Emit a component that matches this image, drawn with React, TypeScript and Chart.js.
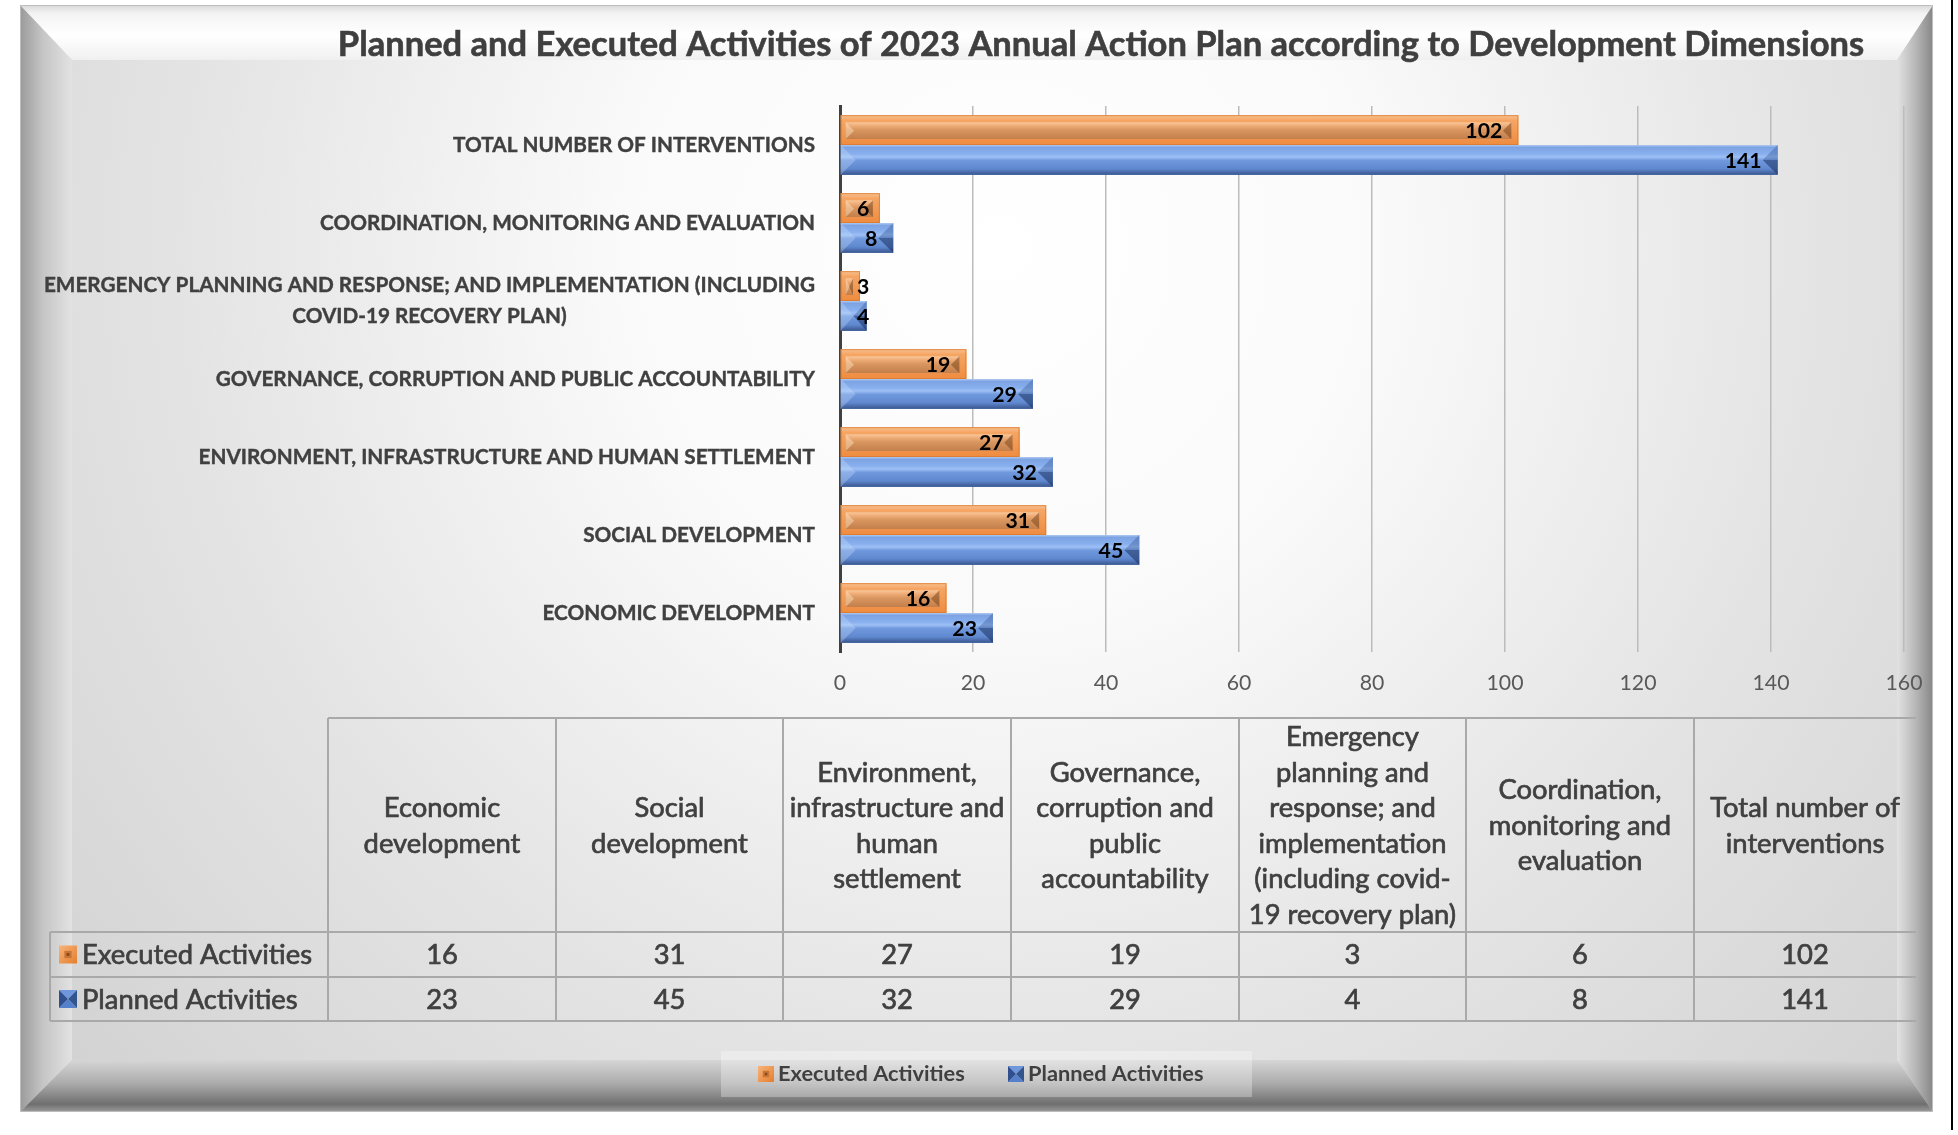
import React, { useEffect, useRef } from "react";
import { Chart, registerables } from "chart.js";

Chart.register(...registerables);

// ---------------- data ----------------
const TITLE =
  "Planned and Executed Activities of 2023 Annual Action Plan according to Development Dimensions";
const SERIES = ["Executed Activities", "Planned Activities"];
// categories in table order (they appear bottom-to-top in the chart)
const AXIS_LABELS: string[][] = [
  ["ECONOMIC DEVELOPMENT"],
  ["SOCIAL DEVELOPMENT"],
  ["ENVIRONMENT, INFRASTRUCTURE AND HUMAN SETTLEMENT"],
  ["GOVERNANCE, CORRUPTION AND PUBLIC ACCOUNTABILITY"],
  ["EMERGENCY PLANNING AND RESPONSE; AND IMPLEMENTATION (INCLUDING", "COVID-19 RECOVERY PLAN)"],
  ["COORDINATION, MONITORING AND EVALUATION"],
  ["TOTAL NUMBER OF INTERVENTIONS"],
];
const TABLE_HEADERS: string[][] = [
  ["Economic", "development"],
  ["Social", "development"],
  ["Environment,", "infrastructure and", "human", "settlement"],
  ["Governance,", "corruption and", "public", "accountability"],
  ["Emergency", "planning and", "response; and", "implementation", "(including covid-", "19 recovery plan)"],
  ["Coordination,", "monitoring and", "evaluation"],
  ["Total number of", "interventions"],
];
const EXECUTED = [16, 31, 27, 19, 3, 6, 102];
const PLANNED = [23, 45, 32, 29, 4, 8, 141];
const X_MIN = 0;
const X_MAX = 160;
const X_STEP = 20;

// ---------------- layout / style ----------------
const W = 1958;
const H = 1135;
const FONT = "Lato, 'Open Sans', sans-serif";
const TEXT = "#404040";
const PLOT = { left: 840, right: 1904, top: 106, bottom: 652 };
const TABLE_COLS = [328, 556, 783, 1011, 1239, 1466, 1694, 1916];
const TABLE_LEFT = 50;
const TABLE_ROWS = [718, 932, 977, 1021];

function fitSize(text: string, target: number, weight: string) {
  const c = document.createElement("canvas").getContext("2d")!;
  c.font = `${weight} 100px ${FONT}`;
  const w = c.measureText(text).width || 1;
  return (100 * target) / w;
}

function poly(ctx: CanvasRenderingContext2D, pts: number[][], fill: any) {
  ctx.beginPath();
  ctx.moveTo(pts[0][0], pts[0][1]);
  for (let i = 1; i < pts.length; i++) ctx.lineTo(pts[i][0], pts[i][1]);
  ctx.closePath();
  ctx.fillStyle = fill;
  ctx.fill();
}

function heavyText(ctx: CanvasRenderingContext2D, t: string, x: number, y: number, w: number) {
  ctx.fillText(t, x, y);
  ctx.lineWidth = w;
  ctx.strokeStyle = ctx.fillStyle as string;
  ctx.strokeText(t, x, y);
}

function drawFrame(ctx: CanvasRenderingContext2D) {
  const O = { l: 20, t: 5, r: 1933, b: 1112 };
  const I = { l: 72, t: 60, r: 1897, b: 1060 };
  ctx.save();
  ctx.fillStyle = "#ffffff";
  ctx.fillRect(0, 0, W, H);
  const face = ctx.createRadialGradient(1000, 250, 0, 1000, 250, 1250);
  face.addColorStop(0, "#ffffff");
  face.addColorStop(0.3, "#fafafa");
  face.addColorStop(0.65, "#e4e4e4");
  face.addColorStop(1, "#d2d2d2");
  ctx.fillStyle = face;
  ctx.fillRect(O.l, O.t, O.r - O.l, O.b - O.t);

  let g = ctx.createLinearGradient(0, O.t, 0, I.t);
  g.addColorStop(0, "#d8d8d8");
  g.addColorStop(0.15, "#f3f3f3");
  g.addColorStop(0.55, "#ffffff");
  g.addColorStop(1, "#f0f0f0");
  poly(ctx, [[O.l, O.t], [O.r, O.t], [I.r, I.t], [I.l, I.t]], g);

  g = ctx.createLinearGradient(O.l, 0, I.l, 0);
  g.addColorStop(0, "#9a9a9a");
  g.addColorStop(0.45, "#c6c6c6");
  g.addColorStop(1, "#e2e2e2");
  poly(ctx, [[O.l, O.t], [I.l, I.t], [I.l, I.b], [O.l, O.b]], g);

  g = ctx.createLinearGradient(I.r, 0, O.r, 0);
  g.addColorStop(0, "#e2e2e2");
  g.addColorStop(0.55, "#b4b4b4");
  g.addColorStop(1, "#868686");
  poly(ctx, [[O.r, O.t], [O.r, O.b], [I.r, I.b], [I.r, I.t]], g);

  g = ctx.createLinearGradient(0, I.b, 0, O.b);
  g.addColorStop(0, "#d6d6d6");
  g.addColorStop(0.45, "#ababab");
  g.addColorStop(0.85, "#6f6f6f");
  g.addColorStop(1, "#9c9c9c");
  poly(ctx, [[O.l, O.b], [I.l, I.b], [I.r, I.b], [O.r, O.b]], g);

  ctx.strokeStyle = "#bdbdbd";
  ctx.lineWidth = 1;
  ctx.strokeRect(O.l + 0.5, O.t + 0.5, O.r - O.l - 1, O.b - O.t - 1);

  ctx.fillStyle = "#000000";
  ctx.fillRect(1951, 0, 2, 1130);
  ctx.restore();
}

function drawKey(ctx: CanvasRenderingContext2D, x: number, y: number, s: number, which: number) {
  ctx.save();
  if (which === 0) {
    const g = ctx.createLinearGradient(x, y, x + s, y + s);
    g.addColorStop(0, "#F8B47A");
    g.addColorStop(1, "#E47E2E");
    ctx.fillStyle = g;
    ctx.fillRect(x, y, s, s);
    ctx.fillStyle = "#C97538";
    ctx.fillRect(x + s * 0.3, y + s * 0.3, s * 0.4, s * 0.4);
    ctx.fillStyle = "#8a4a1c";
    ctx.fillRect(x + s * 0.42, y + s * 0.42, s * 0.16, s * 0.16);
  } else {
    const cx = x + s / 2;
    const cy = y + s / 2;
    poly(ctx, [[x, y], [x + s, y], [cx, cy]], "#6E97DD");
    poly(ctx, [[x, y + s], [x + s, y + s], [cx, cy]], "#5581CC");
    poly(ctx, [[x, y], [x, y + s], [cx, cy]], "#2F4F8E");
    poly(ctx, [[x + s, y], [x + s, y + s], [cx, cy]], "#33558F");
  }
  ctx.restore();
}

function drawOrangeBar(ctx: CanvasRenderingContext2D, L: number, R: number, T: number, B: number) {
  const h = B - T;
  if (R - L < 1) return;
  ctx.save();
  let g = ctx.createLinearGradient(0, T, 0, B);
  g.addColorStop(0, "#F9C190");
  g.addColorStop(0.18, "#F5A563");
  g.addColorStop(1, "#EE8C40");
  ctx.fillStyle = g;
  ctx.fillRect(L, T, R - L, h);
  const il = L + 5;
  const ir = R - 7;
  const it = T + h * 0.24;
  const ib = B - h * 0.2;
  if (ir - il > 1) {
    g = ctx.createLinearGradient(0, it, 0, ib);
    g.addColorStop(0, "#FAC89C");
    g.addColorStop(0.2, "#EFAD78");
    g.addColorStop(0.45, "#D9965F");
    g.addColorStop(1, "#C27F4C");
    ctx.fillStyle = g;
    ctx.fillRect(il, it, ir - il, ib - it);
    const ih = ib - it;
    const d = Math.min(ih / 2, (ir - il) / 2);
    poly(ctx, [[ir, it], [ir - d, (it + ib) / 2], [ir, ib]], "rgba(130,72,30,0.55)");
    poly(ctx, [[il, it], [il + d, (it + ib) / 2], [il, ib]], "rgba(255,228,195,0.45)");
  }
  ctx.strokeStyle = "rgba(215,120,45,0.7)";
  ctx.lineWidth = 1;
  ctx.strokeRect(L + 0.5, T + 0.5, R - L - 1, h - 1);
  ctx.restore();
}

function drawBlueBar(ctx: CanvasRenderingContext2D, L: number, R: number, T: number, B: number) {
  const h = B - T;
  if (R - L < 1) return;
  ctx.save();
  const g = ctx.createLinearGradient(0, T, 0, B);
  g.addColorStop(0, "#AFCAF0");
  g.addColorStop(0.08, "#7DA3E4");
  g.addColorStop(0.3, "#88AFEE");
  g.addColorStop(0.4, "#9DC0F5");
  g.addColorStop(0.52, "#6F98DD");
  g.addColorStop(0.8, "#5F88CF");
  g.addColorStop(0.92, "#4868A6");
  g.addColorStop(1, "#3A5790");
  ctx.fillStyle = g;
  ctx.fillRect(L, T, R - L, h);
  const d = Math.min(h / 2, (R - L) / 2);
  const m = (T + B) / 2;
  poly(ctx, [[R, T], [R - d, m], [R, m]], "rgba(50,80,140,0.35)");
  poly(ctx, [[R, m], [R - d, m], [R, B]], "rgba(20,40,85,0.5)");
  poly(ctx, [[L, T], [L + d, m], [L, B]], "rgba(210,228,255,0.3)");
  ctx.restore();
}

export default function App() {
  const ref = useRef<HTMLCanvasElement | null>(null);

  useEffect(() => {
    const canvas = ref.current;
    if (!canvas) return;

    const titleSize = fitSize(TITLE, 1527, "bold");
    const yLabelSize = fitSize("TOTAL NUMBER OF INTERVENTIONS", 362, "bold");
    const tickSize = fitSize("120", 37, "normal");
    const valueSize = fitSize("102", 37, "bold");
    const tableSize = fitSize("Executed Activities", 230, "normal");
    const legendSize = fitSize("Executed Activities", 187, "bold");

    const order = EXECUTED.map((_, i) => EXECUTED.length - 1 - i);
    const labels = order.map((i) => AXIS_LABELS[i].join(" "));

    const xAxisHeight = 60;

    const decor = {
      id: "decor",
      beforeDraw(chart: any) {
        const ctx: CanvasRenderingContext2D = chart.ctx;
        drawFrame(ctx);
        ctx.save();
        // title
        ctx.fillStyle = "#3F3F3F";
        ctx.font = `bold ${titleSize}px ${FONT}`;
        ctx.textAlign = "center";
        ctx.textBaseline = "middle";
        heavyText(ctx, TITLE, 1101, 45, 0.6);

        // data table
        const [hTop, r1, r2, r3] = TABLE_ROWS;
        const C = TABLE_COLS;
        ctx.strokeStyle = "#a9a9a9";
        ctx.lineWidth = 2;
        ctx.beginPath();
        ctx.moveTo(C[0], hTop);
        ctx.lineTo(C[C.length - 1], hTop);
        [r1, r2, r3].forEach((y) => {
          ctx.moveTo(TABLE_LEFT, y);
          ctx.lineTo(C[C.length - 1], y);
        });
        for (let i = 0; i < C.length - 1; i++) {
          ctx.moveTo(C[i], hTop);
          ctx.lineTo(C[i], r3);
        }
        ctx.moveTo(TABLE_LEFT, r1);
        ctx.lineTo(TABLE_LEFT, r3);
        ctx.stroke();

        ctx.fillStyle = TEXT;
        ctx.font = `normal ${tableSize}px ${FONT}`;
        ctx.textAlign = "center";
        ctx.textBaseline = "middle";
        const lh = 35.5;
        const hc = (hTop + r1) / 2;
        TABLE_HEADERS.forEach((lines, i) => {
          const cx = (C[i] + C[i + 1]) / 2;
          lines.forEach((ln, k) => {
            heavyText(ctx, ln, cx, hc + (k - (lines.length - 1) / 2) * lh + 1, 0.7);
          });
        });
        const rows = [EXECUTED, PLANNED];
        const rowY = [(r1 + r2) / 2, (r2 + r3) / 2];
        rows.forEach((vals, ri) => {
          vals.forEach((v, i) => {
            heavyText(ctx, String(v), (C[i] + C[i + 1]) / 2, rowY[ri] + 1, 0.7);
          });
        });
        ctx.textAlign = "left";
        SERIES.forEach((s, ri) => {
          drawKey(ctx, 59, rowY[ri] - 9, 18, ri);
          ctx.fillStyle = TEXT;
          heavyText(ctx, s, 82, rowY[ri] + 1, 0.7);
        });

        // legend
        ctx.fillStyle = "rgba(255,255,255,0.3)";
        ctx.fillRect(721, 1051, 531, 46);
        ctx.font = `bold ${legendSize}px ${FONT}`;
        ctx.textAlign = "left";
        ctx.textBaseline = "middle";
        const lx = [758, 1008];
        SERIES.forEach((s, i) => {
          drawKey(ctx, lx[i], 1066, 16, i);
          ctx.fillStyle = TEXT;
          ctx.fillText(s, lx[i] + 20, 1074);
        });
        ctx.restore();
      },
      afterDatasetsDraw(chart: any) {
        const ctx: CanvasRenderingContext2D = chart.ctx;
        const xs = chart.scales.x;
        const zero = xs.getPixelForValue(0);
        chart.data.datasets.forEach((ds: any, di: number) => {
          const meta = chart.getDatasetMeta(di);
          meta.data.forEach((el: any, j: number) => {
            const p = el.getProps(["x", "y", "base", "height"], true);
            const L = Math.min(p.base, p.x);
            const R = Math.max(p.base, p.x);
            const T = p.y - p.height / 2;
            const B = p.y + p.height / 2;
            if (di === 0) drawOrangeBar(ctx, L, R, T, B);
            else drawBlueBar(ctx, L, R, T, B);
            // value label (inside end)
            ctx.save();
            ctx.font = `bold ${valueSize}px ${FONT}`;
            ctx.fillStyle = "#000000";
            ctx.textAlign = "right";
            ctx.textBaseline = "middle";
            const txt = String(ds.data[j]);
            const tw = ctx.measureText(txt).width;
            const right = Math.max(R - 16, zero + 17 + tw);
            ctx.fillText(txt, right, p.y + 1);
            ctx.restore();
          });
        });
      },
      afterDraw(chart: any) {
        const ctx: CanvasRenderingContext2D = chart.ctx;
        const ys = chart.scales.y;
        ctx.save();
        ctx.fillStyle = TEXT;
        ctx.font = `bold ${yLabelSize}px ${FONT}`;
        ctx.textBaseline = "middle";
        const rightEdge = 815;
        order.forEach((ci, j) => {
          const lines = AXIS_LABELS[ci];
          const y = ys.getPixelForValue(j);
          if (lines.length === 1) {
            ctx.textAlign = "right";
            heavyText(ctx, lines[0], rightEdge, y, 0.4);
          } else {
            const mw = Math.max(...lines.map((l) => ctx.measureText(l).width));
            const cx = rightEdge - mw / 2;
            ctx.textAlign = "center";
            const lh = 31;
            lines.forEach((l, k) => {
              heavyText(ctx, l, cx, y + (k - (lines.length - 1) / 2) * lh, 0.4);
            });
          }
        });
        ctx.restore();
      },
    };

    const chart = new Chart(canvas, {
      type: "bar",
      data: {
        labels,
        datasets: [
          {
            label: SERIES[0],
            data: order.map((i) => EXECUTED[i]),
            backgroundColor: "#F0913F",
            borderWidth: 0,
            categoryPercentage: 0.765,
            barPercentage: 1,
          },
          {
            label: SERIES[1],
            data: order.map((i) => PLANNED[i]),
            backgroundColor: "#5B87D3",
            borderWidth: 0,
            categoryPercentage: 0.765,
            barPercentage: 1,
          },
        ],
      },
      options: {
        indexAxis: "y",
        responsive: false,
        animation: false,
        devicePixelRatio: 1,
        layout: {
          padding: {
            left: 0,
            top: PLOT.top,
            right: W - PLOT.right,
            bottom: H - PLOT.bottom - xAxisHeight,
          },
        },
        scales: {
          x: {
            min: X_MIN,
            max: X_MAX,
            ticks: {
              stepSize: X_STEP,
              color: "#595959",
              font: { family: FONT, size: tickSize },
              padding: 18,
              maxRotation: 0,
            },
            grid: { color: "#bcbcbc", lineWidth: 1.5, drawTicks: false },
            border: { display: false },
            afterFit: (s: any) => {
              s.height = xAxisHeight;
            },
          },
          y: {
            z: 1,
            ticks: { display: false },
            grid: { display: false, drawTicks: false },
            border: { display: true, color: "#404040", width: 3 },
            afterFit: (s: any) => {
              s.width = PLOT.left;
            },
          },
        },
        plugins: {
          legend: { display: false },
          title: { display: false },
          tooltip: { enabled: false },
        },
      } as any,
      plugins: [decor],
    });

    return () => chart.destroy();
  }, []);

  return (
    <div style={{ position: "absolute", left: 0, top: 0, width: W, height: H, overflow: "hidden" }}>
      <canvas ref={ref} width={W} height={H} style={{ display: "block", width: W, height: H }} />
    </div>
  );
}
